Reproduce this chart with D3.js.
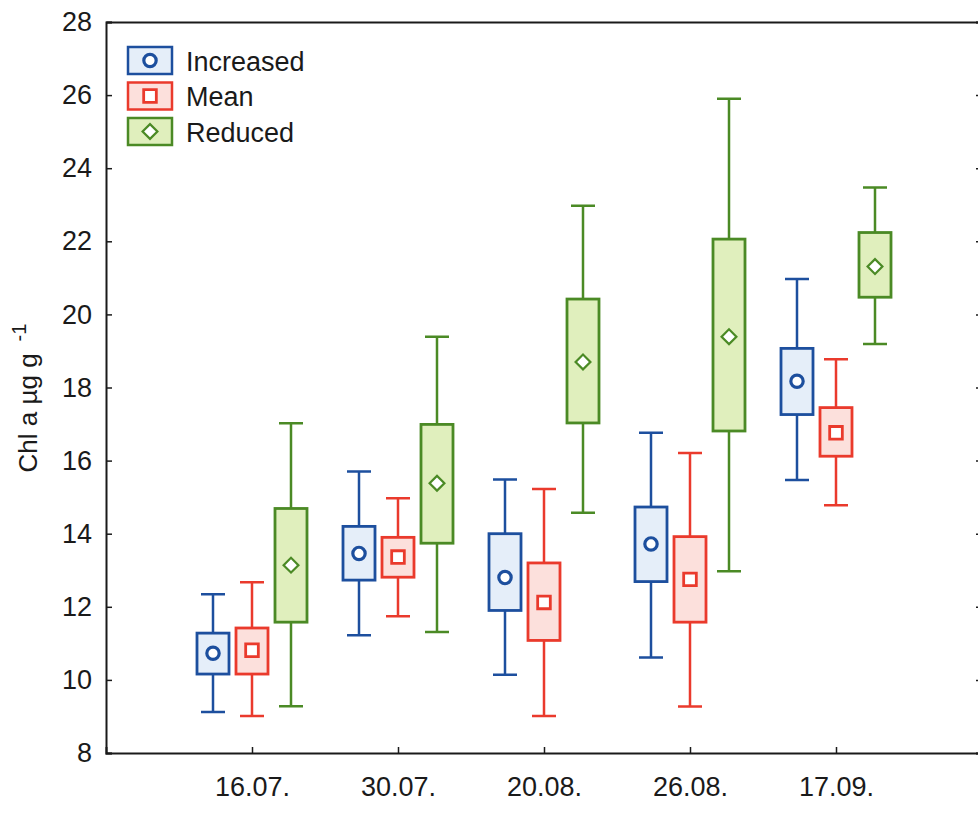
<!DOCTYPE html>
<html>
<head>
<meta charset="utf-8">
<script src="https://cdn.jsdelivr.net/npm/d3@7"></script>
<style>
  body { margin: 0; background: #fff; }
  text { font-family: "Liberation Sans", Arial, sans-serif; fill: #1a1a1a; }
</style>
</head>
<body>
<svg></svg>
<script>
const width = 978, height = 831
const plotL = 106, plotR = 982, plotT = 22, plotB = 753

const categories = ["16.07.", "30.07.", "20.08.", "26.08.", "17.09."]
const series = ["Increased", "Mean", "Reduced"]
const yTicks = [8, 10, 12, 14, 16, 18, 20, 22, 24, 26, 28]

// whisker low, box low, mean, box high, whisker high
const increasedMin  = [9.12, 11.22, 10.14, 10.61, 15.47]
const increasedQ1   = [10.16, 12.73, 11.90, 12.69, 17.26]
const increasedMean = [10.73, 13.46, 12.80, 13.72, 18.17]
const increasedQ3   = [11.28, 14.20, 14.00, 14.73, 19.07]
const increasedMax  = [12.34, 15.70, 15.48, 16.76, 20.97]

const meanMin  = [9.01, 11.74, 9.01, 9.27, 14.78]
const meanQ1   = [10.16, 12.81, 11.08, 11.58, 16.12]
const meanMean = [10.81, 13.36, 12.12, 12.75, 16.76]
const meanQ3   = [11.42, 13.90, 13.20, 13.92, 17.45]
const meanMax  = [12.67, 14.97, 15.22, 16.21, 18.77]

const reducedMin  = [9.28, 11.31, 14.57, 12.97, 19.19]
const reducedQ1   = [11.58, 13.74, 17.03, 16.81, 20.47]
const reducedMean = [13.14, 15.38, 18.70, 19.39, 21.31]
const reducedQ3   = [14.69, 16.99, 20.42, 22.06, 22.24]
const reducedMax  = [17.02, 19.39, 22.97, 25.90, 23.47]

const stroke = { Increased: "#1d4f9e", Mean: "#ea3a2c", Reduced: "#4b8a25" }
const fill = { Increased: "#e5eef9", Mean: "#fce0dc", Reduced: "#e0efbd" }

var svg = d3.select("svg")
    .attr("width", width)
    .attr("height", height);

const x = d3.scaleLinear().domain([0, 6]).range([plotL, plotR])
const offset = d3.scalePoint().domain(series).range([-39, 39])
const y = d3.scaleLinear().domain([8, 28]).range([plotB, plotT])

const stats = {
    Increased: [increasedMin, increasedQ1, increasedMean, increasedQ3, increasedMax],
    Mean: [meanMin, meanQ1, meanMean, meanQ3, meanMax],
    Reduced: [reducedMin, reducedQ1, reducedMean, reducedQ3, reducedMax]
}

const rows = []
series.forEach(s => {
    categories.forEach((c, i) => {
        const a = stats[s]
        rows.push({ s, i, min: a[0][i], q1: a[1][i], mean: a[2][i], q3: a[3][i], max: a[4][i] })
    })
})

// frame + axes
svg.append("g")
    .attr("transform", `translate(${plotL},0)`)
    .call(d3.axisLeft(y).tickValues(yTicks).tickSize(-6).tickPadding(14).tickFormat(d3.format("d")))
    .call(g => g.selectAll("text").attr("font-size", 27))
svg.append("g")
    .attr("transform", `translate(${plotR},0)`)
    .call(d3.axisRight(y).tickValues(yTicks).tickSize(-6).tickFormat(""))
svg.append("g")
    .attr("transform", `translate(0,${plotB})`)
    .call(d3.axisBottom(x).tickValues(categories.map((c, i) => i + 1)).tickSize(-6).tickPadding(24)
        .tickFormat(d => categories[d - 1]))
    .call(g => g.selectAll("text").attr("font-size", 27))
svg.append("g")
    .attr("transform", `translate(0,${plotT})`)
    .call(d3.axisTop(x).tickValues([]).tickSizeOuter(0))

svg.selectAll(".domain").attr("stroke", "#1a1a1a").attr("stroke-width", 2)
svg.selectAll(".tick line").attr("stroke", "#1a1a1a").attr("stroke-width", 1.5)

// boxes
const boxW = 32, capW = 24
const gb = svg.append("g")
const cx = d => x(d.i + 1) + offset(d.s)

gb.selectAll(".whisker")
    .data(rows).enter().append("path")
    .attr("d", d => `M${cx(d)},${y(d.max)}V${y(d.q3)}M${cx(d)},${y(d.q1)}V${y(d.min)}` +
        `M${cx(d) - capW / 2},${y(d.max)}h${capW}M${cx(d) - capW / 2},${y(d.min)}h${capW}`)
    .attr("stroke", d => stroke[d.s])
    .attr("stroke-width", 2.5)
    .attr("fill", "none")

gb.selectAll(".box")
    .data(rows).enter().append("rect")
    .attr("x", d => cx(d) - boxW / 2)
    .attr("y", d => y(d.q3))
    .attr("width", boxW)
    .attr("height", d => y(d.q1) - y(d.q3))
    .attr("fill", d => fill[d.s])
    .attr("stroke", d => stroke[d.s])
    .attr("stroke-width", 2.8)

const symbolFor = {
    Increased: d3.symbol().type(d3.symbolCircle).size(120),
    Mean: d3.symbol().type(d3.symbolSquare).size(160),
    Reduced: d3.symbol().type(d3.symbolSquare).size(110)
}
const markRot = { Increased: 0, Mean: 0, Reduced: 45 }
const markW = { Increased: 3.2, Mean: 2.8, Reduced: 2.2 }

gb.selectAll(".mark")
    .data(rows).enter().append("path")
    .attr("d", d => symbolFor[d.s]())
    .attr("transform", d => `translate(${cx(d)},${y(d.mean)}) rotate(${markRot[d.s]})`)
    .attr("fill", "#fff")
    .attr("stroke", d => stroke[d.s])
    .attr("stroke-width", d => markW[d.s])

// legend
const lg = svg.append("g").attr("transform", "translate(128,47)")
const item = lg.selectAll("g").data(series).enter().append("g")
    .attr("transform", (d, i) => `translate(0,${i * 35.5})`)
item.append("rect")
    .attr("width", 44).attr("height", 27)
    .attr("fill", d => fill[d]).attr("stroke", d => stroke[d]).attr("stroke-width", 2.5)
item.append("path")
    .attr("d", d => symbolFor[d]())
    .attr("transform", d => `translate(22,13.5) rotate(${markRot[d]})`)
    .attr("fill", "#fff")
    .attr("stroke", d => stroke[d])
    .attr("stroke-width", d => markW[d])
item.append("text")
    .attr("x", 58).attr("y", 14)
    .attr("dy", "0.36em")
    .attr("font-size", 27)
    .text(d => d)

// y title
const yt = svg.append("text")
    .attr("transform", "translate(37,398) rotate(-90)")
    .attr("text-anchor", "middle")
    .attr("font-size", 26)
yt.append("tspan").text("Chl a µg g")
yt.append("tspan").attr("dx", 12).attr("dy", -11).attr("font-size", 20).text("-1")
</script>
</body>
</html>
